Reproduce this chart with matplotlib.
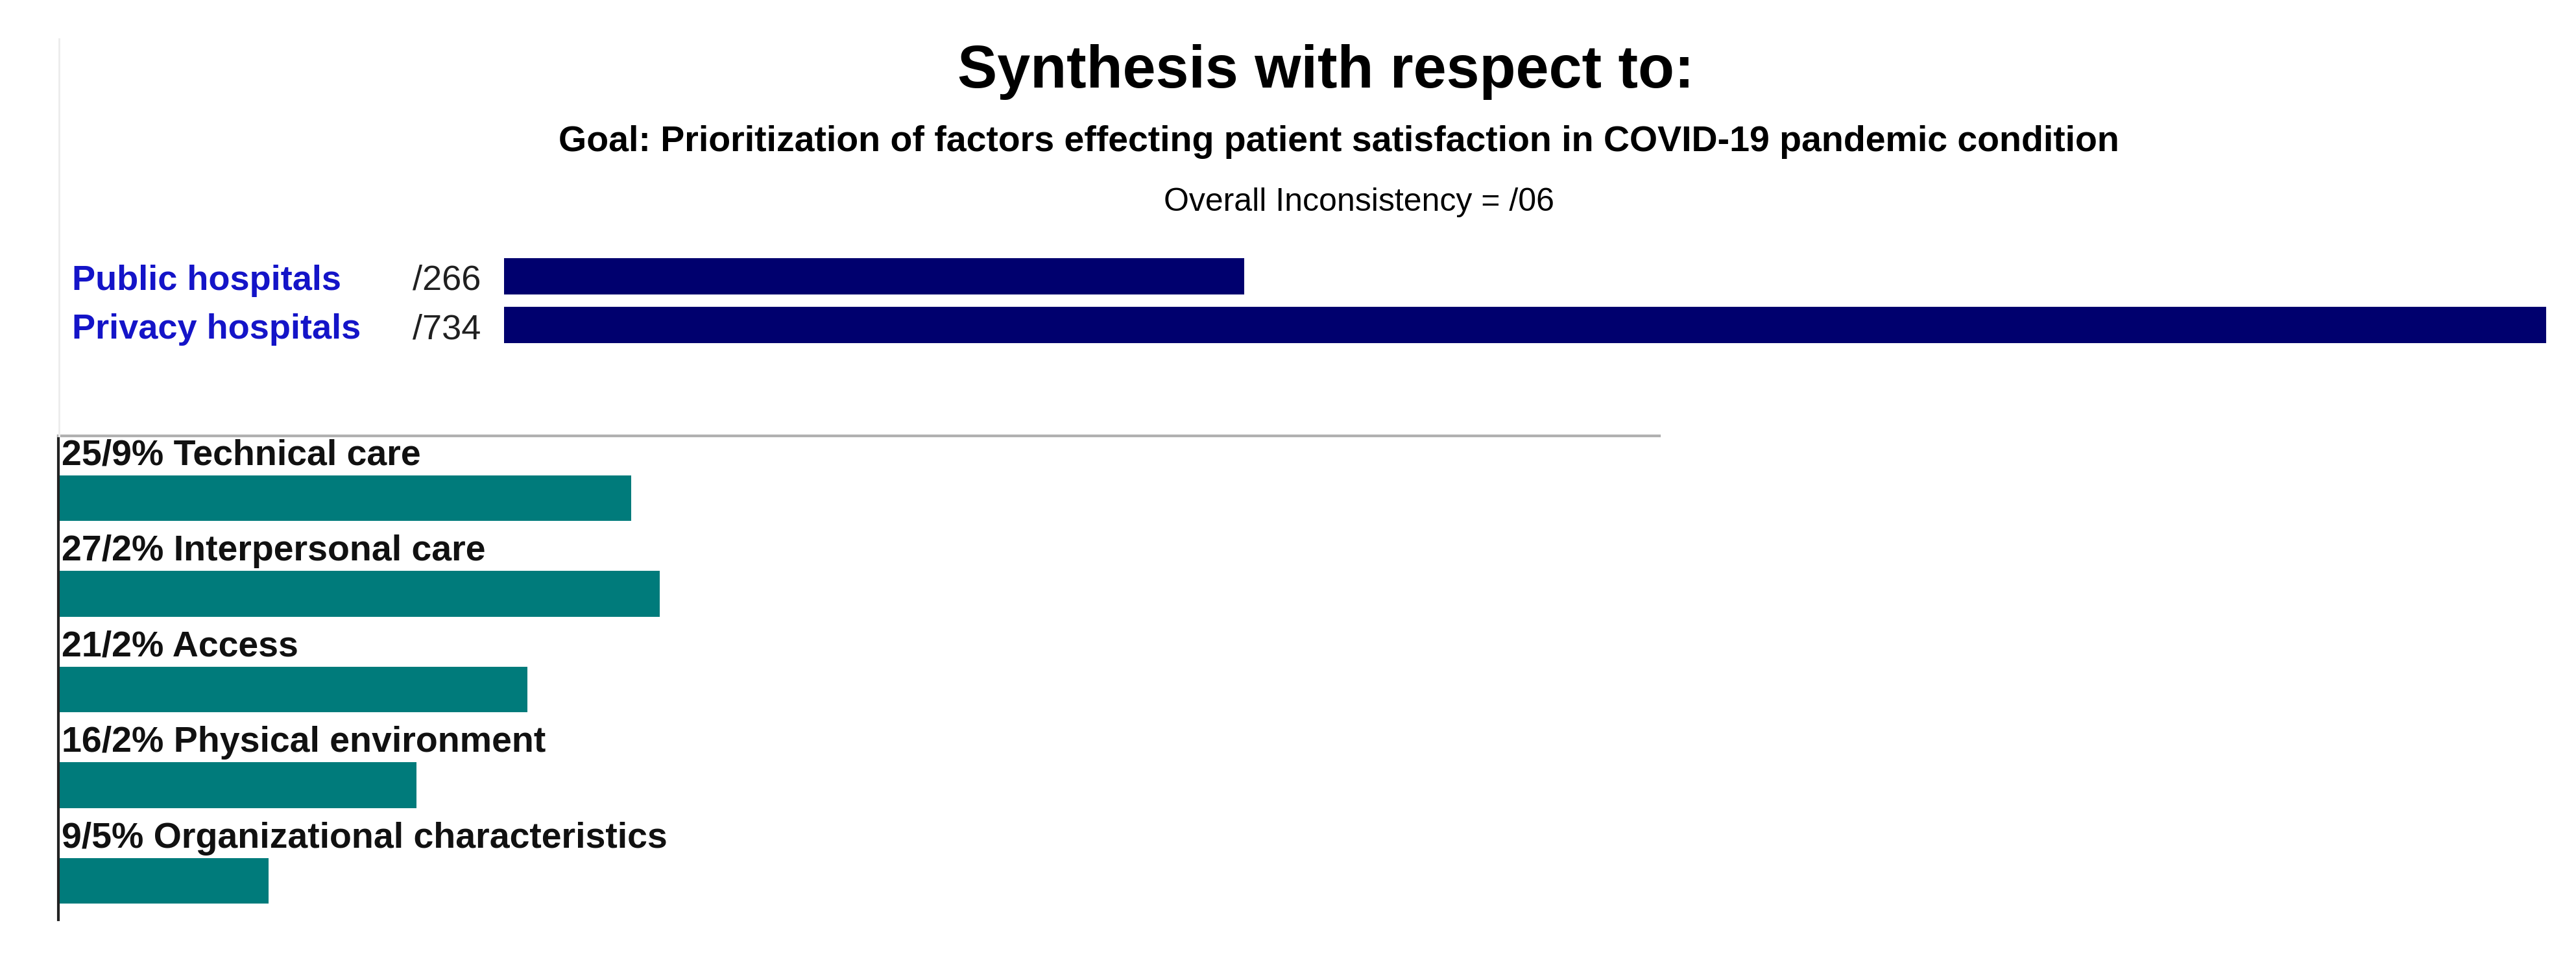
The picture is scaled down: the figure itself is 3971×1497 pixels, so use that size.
import matplotlib
matplotlib.use("Agg")
import matplotlib.pyplot as plt
from matplotlib.lines import Line2D
from matplotlib.transforms import blended_transform_factory

plt.rcParams["font.family"] = ["Liberation Sans", "DejaVu Sans"]

# Data
title = "Synthesis with respect to:"
goal = "Goal: Prioritization of factors effecting patient satisfaction in COVID-19 pandemic condition"
inconsistency = "Overall Inconsistency = /06"

alternatives = ["Public hospitals", "Privacy hospitals"]
alt_scores = [0.266, 0.734]
alt_labels = ["/266", "/734"]

factors = ["Technical care", "Interpersonal care", "Access",
           "Physical environment", "Organizational characteristics"]
factor_weights = [25.9, 27.2, 21.2, 16.2, 9.5]
factor_labels = ["25/9%", "27/2%", "21/2%", "16/2%", "9/5%"]

W, H = 3971, 1497
fig = plt.figure(figsize=(W/100, H/100), dpi=100)


def box(left, top, right, bottom):
    # pixel box -> figure fraction rect
    return [left/W, 1 - bottom/H, (right-left)/W, (bottom-top)/H]


# Header texts
fig.text(2044/W, 1 - 135/H, title, ha="center", va="baseline", fontsize=66, fontweight="bold")
fig.text(2064/W, 1 - 233/H, goal, ha="center", va="baseline", fontsize=40, fontweight="bold")
fig.text(2095/W, 1 - 325/H, inconsistency, ha="center", va="baseline", fontsize=36)

# Faint left rule in the upper panel
fig.add_artist(Line2D([91/W, 91/W], [1 - 60/H, 1 - 672/H], color="#ececec", lw=2,
                      transform=fig.transFigure))

# Alternatives (top)
ax1 = fig.add_axes(box(777, 388, 3925, 539))
ax1.barh(range(len(alt_scores)), alt_scores, height=0.74, color="#00006e")
ax1.set_xlim(0, max(alt_scores))
ax1.set_ylim(len(alt_scores) - 0.5, -0.5)
ax1.axis("off")
trans = blended_transform_factory(fig.transFigure, ax1.transData)
for i, (name, lab) in enumerate(zip(alternatives, alt_labels)):
    ax1.text(111/W, i + 0.28, name, transform=trans, va="baseline", ha="left",
             fontsize=39, fontweight="bold", color="#1414c8")
    ax1.text(741/W, i + 0.28, lab, transform=trans, va="baseline", ha="right",
             fontsize=39, color="#202020")

# Factors (bottom)
ax2 = fig.add_axes(box(90, 672, 2558, 1418))
bar_h = 0.475
ax2.barh(range(len(factor_weights)), factor_weights, height=bar_h, color="#007b7b")
ax2.set_xlim(0, 72.4)
ax2.set_ylim(len(factor_weights) - 1 + 0.407, -0.651)
for i, (name, lab) in enumerate(zip(factors, factor_labels)):
    ax2.text(0.15, i - bar_h/2 - 0.11, f"{lab} {name}", va="baseline", ha="left",
             fontsize=40, fontweight="bold", color="#111111")
ax2.set_xticks([])
ax2.set_yticks([])
ax2.spines["right"].set_visible(False)
ax2.spines["bottom"].set_visible(False)
ax2.spines["top"].set_color("#b0b0b0")
ax2.spines["top"].set_linewidth(3)
ax2.spines["left"].set_color("#222222")
ax2.spines["left"].set_linewidth(3)

fig.savefig("out.png", dpi=100)
